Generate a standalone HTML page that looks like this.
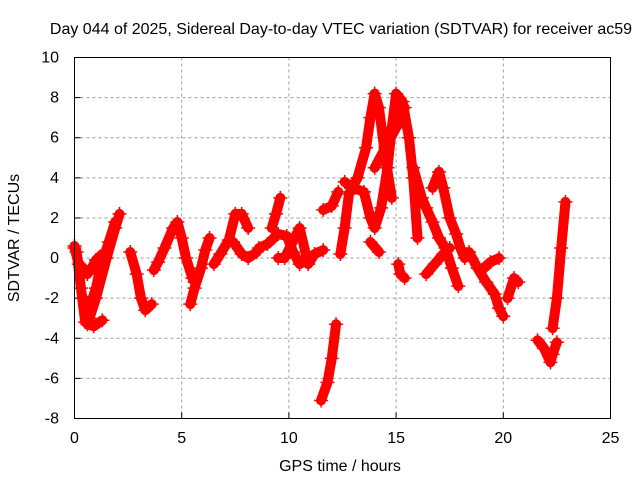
<!DOCTYPE html>
<html><head><meta charset="utf-8"><style>
body{margin:0;background:#fff}
svg{display:block;font-family:"Liberation Sans",sans-serif;font-size:16px}
</style></head><body>
<svg id="chart" width="640" height="480" viewBox="0 0 640 480">
<text x="341" y="34" text-anchor="middle">Day 044 of 2025, Sidereal Day-to-day VTEC variation (SDTVAR) for receiver ac59</text>
<g id="grid"></g>
<g id="ticks"></g>
<g id="series"></g>
<rect x="74.5" y="57.5" width="536" height="361" fill="none" stroke="#000" stroke-width="1"/>
<text x="340" y="471" text-anchor="middle">GPS time / hours</text>
<text transform="translate(19,238) rotate(-90)" text-anchor="middle">SDTVAR / TECUs</text>
</svg>
<script>
const xTicks=[0,5,10,15,20,25];
const yTicks=[-8,-6,-4,-2,0,2,4,6,8,10];
const traceA=[[0,0.6],[0.1,0.3],[0.3,-1.5],[0.5,-3.2],[0.7,-3],[1.0,-2],[1.5,0],[1.9,1.5],[2.1,2.2]];
const traceB=[[0,0.5],[0.2,-0.3],[0.4,-0.5],[0.6,-0.8],[0.8,-0.5],[1.0,-0.1],[1.3,0.2]];
const traceC=[[0.4,-2],[0.7,-2.5],[1.0,-1.5],[1.2,-0.5],[1.6,0.8],[1.9,1.8]];
const traceD=[[0.6,-3.3],[0.9,-3.4],[1.3,-3.1]];
const traceE=[[2.6,0.3],[2.9,-0.8],[3.1,-2],[3.3,-2.6],[3.6,-2.3]];
const traceF=[[3.7,-0.6],[3.9,-0.2],[4.2,0.5],[4.6,1.5],[4.8,1.8],[5.0,1.0],[5.2,0],[5.5,-1],[5.6,-1.2]];
const traceG=[[5.4,-2.3],[5.6,-1.5],[5.9,-0.5],[6.1,0.4],[6.3,1.0]];
const traceH=[[6.5,-0.3],[6.8,0.2],[7.2,0.9],[7.5,2.2],[7.8,2.2],[8.1,1.5]];
const traceI=[[7.4,0.8],[7.8,0.2],[8.1,0.0],[8.5,0.3]];
const traceJ=[[8.6,0.5],[9.0,0.7],[9.5,1.2],[9.9,1.1],[10.2,0.3],[10.5,-0.3],[11,0]];
const traceK=[[9.5,0],[9.8,0],[10.5,1.5],[10.9,-0.3],[11.2,0.2],[11.6,0.4]];
const traceL=[[9.2,1.5],[9.4,2.2],[9.6,3]];
const traceM=[[11.5,-7.1],[11.8,-6.2],[12.0,-5],[12.2,-3.3]];
const traceN=[[11.6,2.4],[12.0,2.6],[12.3,3.3]];
const traceO=[[12.4,0.2],[12.6,1.5],[12.8,3.2],[13.2,4],[13.6,5.5],[13.8,7],[14.0,8.2],[14.2,7.5],[14.5,5],[14.8,3]];
const traceP=[[12.6,3.8],[13.0,3.5],[13.5,3.3],[13.8,2],[14.0,1.5],[14.3,2.5],[14.6,4.5],[14.8,6.5],[15.0,8.2],[15.3,7.8],[15.6,6],[15.8,4],[16.0,1]];
const traceQ=[[14.0,4.5],[14.5,5.5],[15.0,6.5],[15.4,7.5]];
const traceR=[[13.8,0.8],[14.2,0.3]];
const traceS=[[15.1,-0.3],[15.2,-0.8],[15.4,-1]];
const traceT=[[15.8,4.5],[16.2,3],[16.4,2.5],[16.7,1.8],[17.0,1.0],[17.3,0.5],[17.6,-0.5],[17.9,-1.4]];
const traceU=[[16.7,3.5],[17.0,4.3],[17.2,3.5],[17.5,2],[17.8,1.2],[18.0,0.5],[18.2,0]];
const traceV=[[16.4,-0.8],[16.8,-0.3],[17.2,0.2],[17.5,0.5]];
const traceW=[[18.4,0.3],[18.8,-0.5],[19.2,-1.2],[19.6,-1.8],[19.8,-2.5],[20.0,-2.9]];
const traceX=[[19.0,-0.6],[19.4,-0.2],[19.8,0.0]];
const traceY=[[20.2,-2],[20.5,-1],[20.7,-1.2]];
const traceZ=[[21.6,-4.1],[21.9,-4.5],[22.2,-5.2],[22.3,-4.8],[22.5,-4.2]];
const traceAA=[[22.3,-3.5],[22.5,-2],[22.7,0.5],[22.9,2.8]];
const traces=[traceA,traceB,traceC,traceD,traceE,traceF,traceG,traceH,traceI,traceJ,traceK,traceL,traceM,traceN,traceO,traceP,traceQ,traceR,traceS,traceT,traceU,traceV,traceW,traceX,traceY,traceZ,traceAA];

const X0=74.5,X1=610.5,Y0=418.5,Y1=57.5;
const sx=t=>X0+(t-0)/(25-0)*(X1-X0);
const sy=v=>Y0-(v+8)/(10+8)*(Y0-Y1);
const NS="http://www.w3.org/2000/svg";
const grid=document.getElementById('grid'),ticks=document.getElementById('ticks'),ser=document.getElementById('series');
function mk(tag,attrs,parent){const e=document.createElementNS(NS,tag);for(const k in attrs)e.setAttribute(k,attrs[k]);parent.appendChild(e);return e;}
xTicks.forEach(t=>{
  const x=sx(t);
  if(t>0&&t<25){const g=mk('line',{x1:x,x2:x,y1:Y1,y2:Y0,stroke:'#a0a0a0','stroke-dasharray':'3,3'},grid);
  
  }
  const tk=mk('text',{x:x,y:443,'text-anchor':'middle'},ticks);tk.textContent=t;
  
  
  mk('line',{x1:x,x2:x,y1:Y0,y2:Y0-6,stroke:'#000'},ticks);
});
yTicks.forEach(v=>{
  const y=sy(v);
  if(v>-8&&v<10){const g=mk('line',{x1:X0,x2:X1,y1:y,y2:y,stroke:'#a0a0a0','stroke-dasharray':'3,3'},grid);
  
  }
  const tk=mk('text',{x:59,y:y+5,'text-anchor':'end'},ticks);tk.textContent=v;
  
  
  mk('line',{x1:X0,x2:X0+6,y1:y,y2:y,stroke:'#000'},ticks);
});
traces.forEach(tr=>{
  const pts=tr.map(p=>sx(p[0])+','+sy(p[1])).join(' ');
  const pl=mk('polyline',{points:pts,fill:'none',stroke:'#ff0000','stroke-width':10,'stroke-linejoin':'round','stroke-linecap':'round'},ser);
  
  
  tr.forEach(p=>{
    const x=sx(p[0]),y=sy(p[1]);
    const m=mk('path',{d:`M${x-7},${y}H${x+7}M${x},${y-7}V${y+7}`,stroke:'#ff0000','stroke-width':1.5},ser);
    
    
  });
});
</script>
</body></html>
